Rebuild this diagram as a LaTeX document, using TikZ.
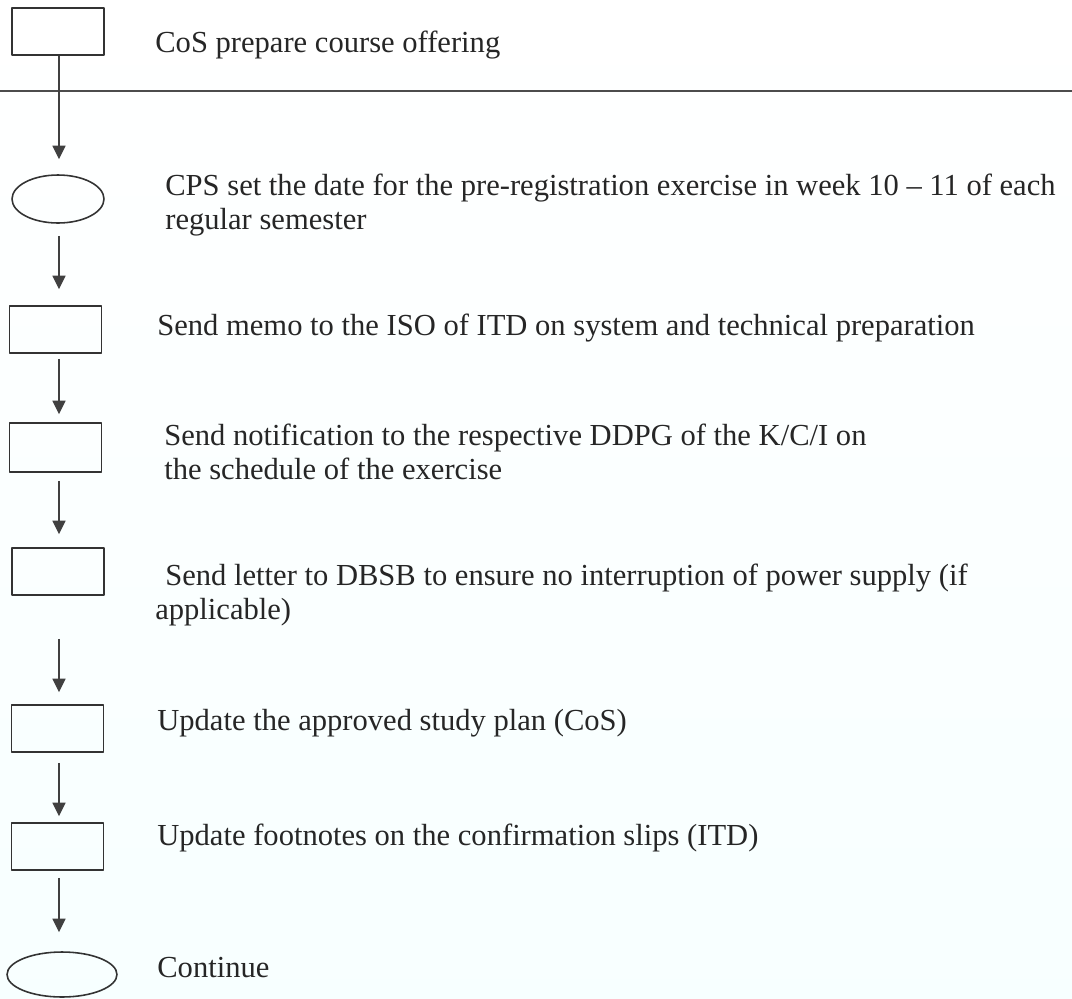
\documentclass[tikz,border=0pt]{standalone}
\usepackage{fontspec}
\setmainfont{Liberation Serif}
\usetikzlibrary{shapes.geometric,arrows.meta}
\begin{document}
\begin{tikzpicture}[x=0.02cm,y=-0.02cm, line join=round, >={Triangle[length=0.27cm,width=0.26cm]},
	stepbox/.style={draw=black!80,line width=0.9pt,minimum width=1.84cm,minimum height=0.94cm,inner sep=0pt},
	stepoval/.style={ellipse,draw=black!80,line width=0.9pt,inner sep=0pt},
	steptext/.style={anchor=base west,inner sep=0pt,align=left,text=black!85,font=\fontsize{17.4}{19}\selectfont},
	flow/.style={->,draw=black!75,line width=0.8pt}]
	\useasboundingbox (0,0) rectangle (1072,998);
	\fill[top color=white,bottom color=cyan!3] (0,0) rectangle (1072,998);
	\draw[black!70,line width=0.8pt] (0,91) -- (1072,91);
	% shapes on the left
	\node[stepbox] (box1) at (58,31.5) {};
	\node[stepoval,minimum width=1.84cm,minimum height=0.96cm] (oval2) at (58,199) {};
	\node[stepbox] (box3) at (55.5,329.5) {};
	\node[stepbox,minimum height=0.98cm] (box4) at (55.5,447.5) {};
	\node[stepbox] (box5) at (58,571.5) {};
	\node[stepbox] (box6) at (57.5,728.5) {};
	\node[stepbox] (box7) at (57.5,846.5) {};
	\node[stepoval,minimum width=2.2cm,minimum height=0.9cm] (oval8) at (62,974.5) {};
	\coordinate (spine) at (59,0);
	\foreach \a/\b/\s/\e in {
		box1/oval2/0mm/3mm, oval2/box3/2.4mm/3.2mm,
		box3/box4/1mm/1.6mm, box4/box5/1.6mm/2.6mm,
		box5/box6/8.6mm/2.4mm, box6/box7/2mm/1.2mm,
		box7/oval8/1.4mm/3.8mm}
	{
		\draw[flow,shorten <=\s,shorten >=\e] (\a.south -| spine) -- (\b.north -| spine);
	}
	% texts (two-line ones sit on the baseline of their last line)
	\node[steptext] (t1) at (155,52) {CoS prepare course offering};
	\node[steptext] (t2) at (165,229) {CPS set the date for the pre-registration exercise in week 10 -- 11 of each\\regular semester};
	\node[steptext] (t3) at (157,335) {Send memo to the ISO of ITD on system and technical preparation};
	\node[steptext] (t4) at (164,479) {Send notification to the respective DDPG of the K/C/I on\\the schedule of the exercise};
	\node[steptext] (t5) at (155,619) {\hspace{0.2cm}Send letter to DBSB to ensure no interruption of power supply (if\\applicable)};
	\node[steptext] (t6) at (157,730) {Update the approved study plan (CoS)};
	\node[steptext] (t7) at (157,845) {Update footnotes on the confirmation slips (ITD)};
	\node[steptext] (t8) at (157,977) {Continue};
\end{tikzpicture}
\end{document}
